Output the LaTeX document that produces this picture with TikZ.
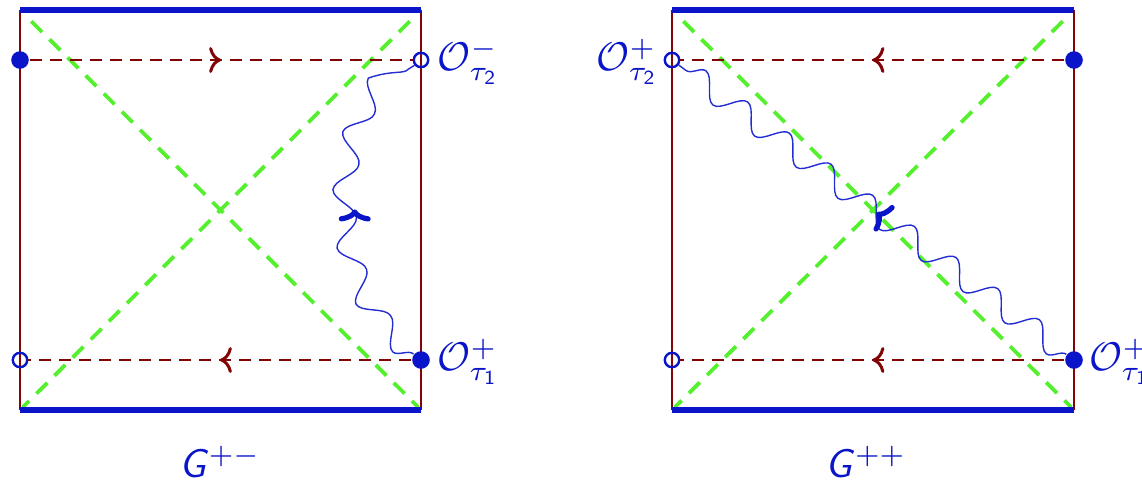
\documentclass[tikz,border=0pt]{standalone}
\usetikzlibrary{decorations.pathmorphing,decorations.markings,arrows.meta}
\definecolor{bblue}{RGB}{10,20,200}
\definecolor{wblue}{RGB}{35,45,210}
\definecolor{dred}{RGB}{130,5,5}
\definecolor{lgreen}{RGB}{85,240,45}
\tikzset{
  side/.style={draw=dred,line width=0.7pt},
  bedge/.style={draw=bblue,line width=1.3pt},
  diag/.style={draw=lgreen,line width=0.95pt,dash pattern=on 3.8pt off 2.6pt},
  rdash/.style={draw=dred,line width=0.45pt,dash pattern=on 3pt off 2pt},
  fdot/.style={circle,fill=bblue,inner sep=0pt,minimum size=4.4pt},
  odot/.style={circle,draw=bblue,line width=0.6pt,inner sep=0pt,minimum size=3.6pt},
  wave/.style={draw=wblue,line width=0.35pt,decorate,decoration={snake,segment length=#1,amplitude=2.9pt}},
  midarr/.style={decorate,decoration={markings,mark=at position 0.5 with {\arrow[dred,line width=0.75pt]{To[length=3pt,width=6.5pt]}}}},
  bigarr/.style={decorate,decoration={markings,mark=at position #1 with {\arrow[bblue,line width=1.3pt]{To[length=3pt,width=8pt]}}}},
  lbl/.style={text=bblue,inner sep=0pt}
}
\begin{document}
\begin{tikzpicture}[x=0.25pt,y=-0.25pt]
\useasboundingbox (0,0) rectangle (1142,483);
% left diagram corners
\coordinate (a1) at (20,10);
\coordinate (a2) at (421,10);
\coordinate (a3) at (421,410);
\coordinate (a4) at (20,410);
% right diagram corners
\coordinate (b1) at (672,10);
\coordinate (b2) at (1074,10);
\coordinate (b3) at (1074,410);
\coordinate (b4) at (672,410);
% frames
\draw[side] (a1) -- (a4);
\draw[side] (a2) -- (a3);
\draw[side] (b1) -- (b4);
\draw[side] (b2) -- (b3);
\draw[diag,shorten <=4pt,shorten >=1pt] (a1) -- (a3);
\draw[diag,shorten <=4pt,shorten >=1pt] (a2) -- (a4);
\draw[diag,shorten <=4pt,shorten >=1pt] (b1) -- (b3);
\draw[diag,shorten <=4pt,shorten >=1pt] (b2) -- (b4);
\draw[bedge] (a1) -- (a2);
\draw[bedge] (a4) -- (a3);
\draw[bedge] (b1) -- (b2);
\draw[bedge] (b4) -- (b3);
% dots
\node[fdot] (l1) at (20,60) {};
\node[odot] (r1) at (421,60) {};
\node[odot] (l2) at (20,360) {};
\node[fdot] (r2) at (421,360) {};
\node[odot] (m1) at (672,60) {};
\node[fdot] (n1) at (1074,60) {};
\node[odot] (m2) at (672,360) {};
\node[fdot] (n2) at (1074,360) {};
% dashed lines with arrows
\draw[rdash] (l1) -- (r1);
\path[midarr] (l1) -- (r1);
\draw[rdash] (r2) -- (l2);
\path[midarr] (r2) -- (l2);
\draw[rdash] (n1) -- (m1);
\path[midarr] (n1) -- (m1);
\draw[rdash] (n2) -- (m2);
\path[midarr] (n2) -- (m2);
% wavy propagators
\draw[wave=14pt] (r2) .. controls (335,290) and (335,130) .. (r1);
\path[bigarr=0.5] (r2) .. controls (335,290) and (335,130) .. (r1);
\draw[wave=13pt] (n2) -- (m1);
\path[bigarr=0.49] (n2) -- (m1);
% labels
\node[lbl,anchor=west] (t1) at (437,62) {$\mathcal{O}^-_{\tau_{\mathsf 2}}$};
\node[lbl,anchor=west] (t2) at (437,362) {$\mathcal{O}^+_{\tau_{\mathsf 1}}$};
\node[lbl,anchor=east] (t3) at (659,62) {$\mathcal{O}^+_{\tau_{\mathsf 2}}$};
\node[lbl,anchor=west] (t4) at (1089,362) {$\mathcal{O}^+_{\tau_{\mathsf 1}}$};
\node[lbl] (g1) at (220,462) {\textsf{\textit{G}}$^{+-}$};
\node[lbl] (g2) at (866,462) {\textsf{\textit{G}}$^{++}$};
\end{tikzpicture}
\end{document}
